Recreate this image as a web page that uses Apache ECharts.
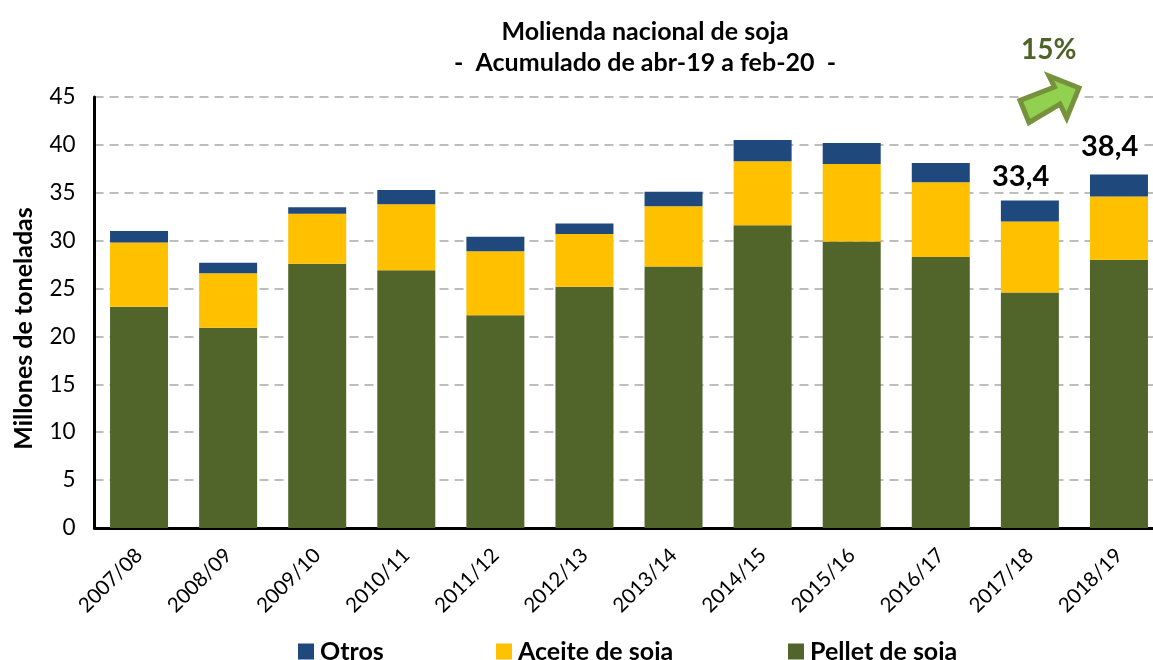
<!DOCTYPE html>
<html><head><meta charset="utf-8"><style>html,body{margin:0;padding:0;background:#fff;overflow:hidden}#c{width:1153px;height:660px}</style>
<script src="https://cdn.jsdelivr.net/npm/echarts@6/dist/echarts.min.js"></script></head><body><div id="c"></div>
<script>
const categories=['2007/08','2008/09','2009/10','2010/11','2011/12','2012/13','2013/14','2014/15','2015/16','2016/17','2017/18','2018/19'];
const pellet=[23.1,20.9,27.6,26.9,22.2,25.2,27.3,31.6,29.9,28.3,24.6,28.0];
const aceite=[6.7,5.7,5.2,6.9,6.7,5.5,6.3,6.7,8.1,7.8,7.4,6.6];
const otros=[1.2,1.1,0.7,1.5,1.5,1.1,1.5,2.2,2.2,2.0,2.2,2.3];
const font='Lato,"Open Sans",sans-serif';
const chart=echarts.init(document.getElementById('c'),null,{renderer:'canvas'});
const mk=(name,data,color)=>({name,type:'bar',stack:'a',data,barWidth:58,itemStyle:{color}});
const lg=(name,left)=>({left,top:639,itemWidth:16,itemHeight:16,icon:'rect',padding:0,itemGap:0,data:[name],
  textStyle:{fontFamily:font,fontSize:25,fontWeight:'bold',color:'#000',padding:[0,0,0,1]}});
chart.setOption({
 animation:false,
 title:{text:'Molienda nacional de soja\n-  Acumulado de abr-19 a feb-20  -',left:640,top:11,textAlign:'center',textStyle:{fontFamily:font,fontSize:25,fontWeight:'bold',color:'#000',lineHeight:31}},
 grid:{left:94.5,right:-10.5,top:97,bottom:132,outerBoundsMode:'none'},
 xAxis:{type:'category',data:categories,axisLine:{lineStyle:{color:'#000',width:3}},axisTick:{show:false},
  axisLabel:{rotate:45,fontFamily:font,fontSize:20.5,color:'#000',margin:24,interval:0}},
 yAxis:{type:'value',min:0,max:45,interval:5,name:'Millones de toneladas',nameLocation:'middle',nameGap:58,
  nameTextStyle:{fontFamily:font,fontSize:25,fontWeight:'bold',color:'#000',padding:[0,32,0,0]},
  axisLine:{show:true,lineStyle:{color:'#000',width:3}},axisTick:{show:false},
  axisLabel:{fontFamily:font,fontSize:22.5,color:'#000',margin:19},
  splitLine:{lineStyle:{color:'#bdbdbd',type:[9,6],width:2}}},
 legend:[lg('Otros',298),lg('Aceite de soja',496),lg('Pellet de soja',788)],
 series:[mk('Pellet de soja',pellet,'#51652a'),mk('Aceite de soja',aceite,'#ffc000'),mk('Otros',otros,'#1f497d')],
 graphic:[
  {type:'text',x:992,y:162,z:10,style:{text:'33,4',font:'bold 29px Lato',fill:'#000'}},
  {type:'text',x:1079,y:132,z:10,style:{text:'38,4',font:'bold 29px Lato',fill:'#000',backgroundColor:'#fff',padding:[0,2]}},
  {type:'text',x:1021,y:36,z:10,style:{text:'15%',font:'bold 28px Lato',fill:'#4f6228'}},
  {type:'polygon',z:10,shape:{points:[[1020,100.4],[1054.5,87],[1049,76],[1079,88],[1066.7,118],[1060,104],[1029,122.5]]},style:{fill:'#92d050',stroke:'#76923c',lineWidth:5,lineJoin:'miter'}}
 ]
});
</script></body></html>
